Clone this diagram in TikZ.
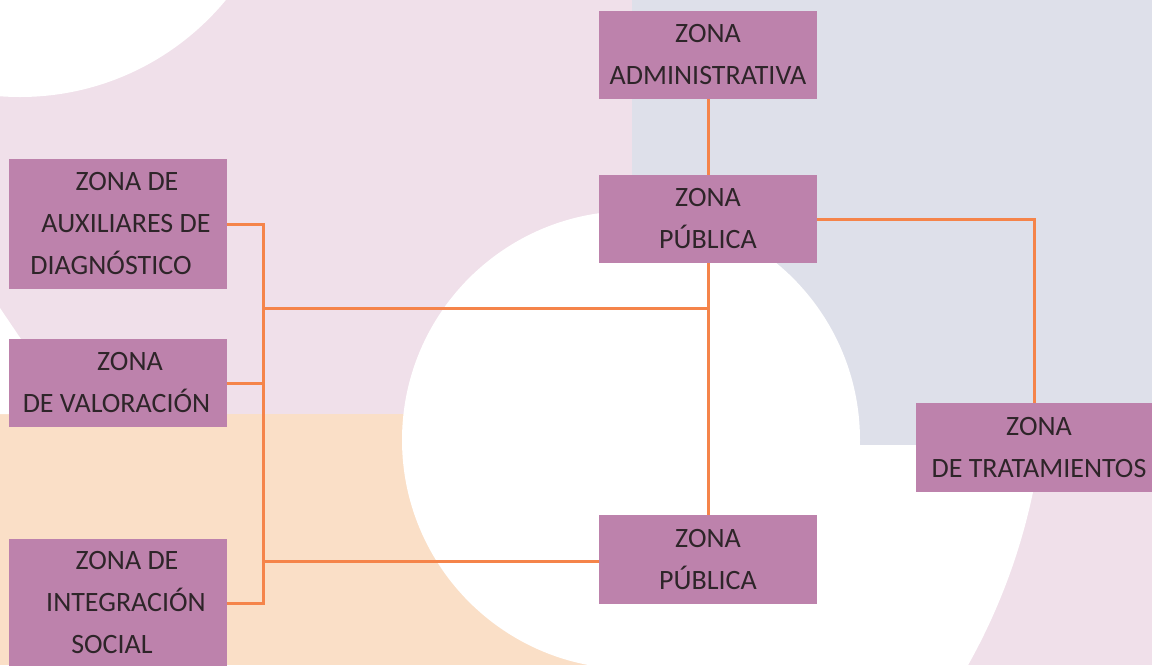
\documentclass[tikz,border=0pt]{standalone}
\usepackage{fontspec}
\setmainfont{Carlito}
\definecolor{boxc}{HTML}{BD82AC}
\definecolor{txt}{HTML}{2E2529}
\definecolor{lnk}{HTML}{F5844A}
\definecolor{pinkbg}{HTML}{F0E0EA}
\definecolor{greybg}{HTML}{DEE0EA}
\definecolor{peach}{HTML}{FADFC7}
\begin{document}
\begin{tikzpicture}[x=1pt,y=-1pt,
  zone/.style={rectangle, fill=boxc, text=txt, align=center, inner sep=0pt,
    font=\fontsize{28}{42}\selectfont},
  link/.style={draw=lnk, line width=3pt}]
\useasboundingbox (0,0) rectangle (1152,665);
\begin{scope}
\clip (0,0) rectangle (1152,665);
\fill[white] (0,0) rectangle (1152,665);
\fill[pinkbg] (632,445) rectangle (1152,665);
\fill[white] (434,366) circle[radius=612];
\fill[pinkbg] (0,0) rectangle (632,414);
\fill[peach] (0,414) rectangle (632,665);
\fill[greybg] (632,0) rectangle (1152,445);
\fill[white] (20,-170) circle[radius=267];
\fill[white] (0,308) -- (25,345) -- (25,414) -- (0,414) -- cycle;
\fill[white] (631,440) circle[radius=229];

\node[zone, minimum width=218pt, minimum height=88pt] (admin) at (708,55) {ZONA\\ADMINISTRATIVA};
\node[zone, minimum width=218pt, minimum height=88pt] (pubA) at (708,219) {ZONA\\PÚBLICA};
\node[zone, minimum width=218pt, minimum height=89pt] (pubB) at (708,559.5) {ZONA\\PÚBLICA};
\node[zone, minimum width=236pt, minimum height=89pt] (trat) at (1034,447.5) {\hspace*{10pt}ZONA\\\hspace*{10pt}DE TRATAMIENTOS};
\node[zone, minimum width=218pt, minimum height=130pt] (aux) at (118,224) {\hspace*{18pt}ZONA DE\\\hspace*{16pt}AUXILIARES DE\\DIAGNÓSTICO\hspace*{14pt}};
\node[zone, minimum width=218pt, minimum height=88pt] (val) at (118,383) {\hspace*{24pt}ZONA\\DE VALORACIÓN\hspace*{3pt}};
\node[zone, minimum width=218pt, minimum height=128pt] (integ) at (118,603) {\hspace*{18pt}ZONA DE\\\hspace*{16pt}INTEGRACIÓN\\SOCIAL\hspace*{12pt}};

\coordinate (busB) at (263,603);
\coordinate (j1) at (263,308);
\coordinate (j2) at (263,561);
\draw[link] (admin) -- (pubA);
\draw[link] (pubA) -- (pubB);
\draw[link] (pubA.east) -| (trat.north);
\draw[link] (aux.east) -| (busB) -- (integ.east);
\draw[link] (val.east) -- (val.east -| busB);
\draw[link] (j1) -- (j1 -| pubA);
\draw[link] (j2) -- (j2 -| pubB.west);
\end{scope}
\end{tikzpicture}
\end{document}
